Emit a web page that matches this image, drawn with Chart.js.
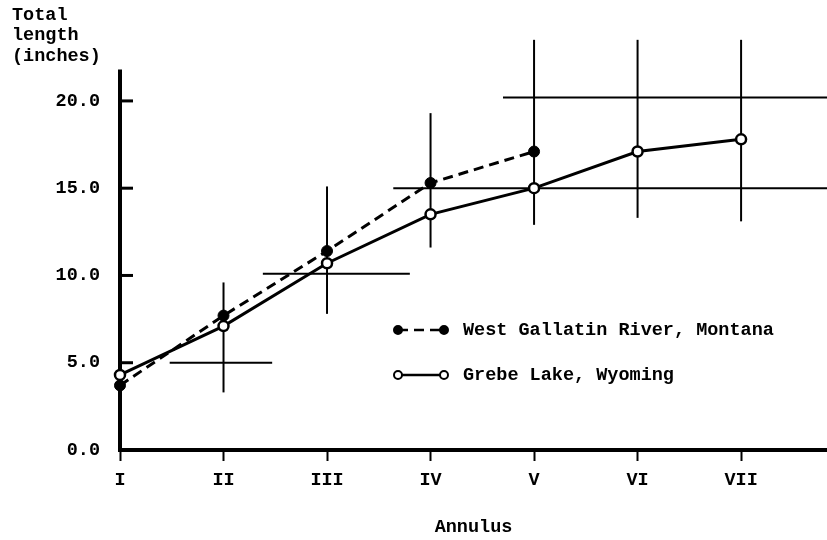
<!DOCTYPE html>
<html>

<head>
    <title>Total length by annulus</title>
    <script src="https://cdn.jsdelivr.net/npm/chart.js@4.4.0/dist/chart.umd.min.js"></script>
    <style>
        body {
            margin: 0;
            background: #fff;
        }

        .chart-container {
            width: 827px;
            height: 540px;
        }
    </style>
</head>

<body>
    <div class="chart-container">
        <canvas id="annulus-chart"></canvas>
    </div>

    <script>
        // annulus labels (x = 1..7)
        const annulus = ['I', 'II', 'III', 'IV', 'V', 'VI', 'VII'];

        // mean total length (inches)
        const westGallatin = [3.7, 7.7, 11.4, 15.3, 17.1];
        const grebeLake = [4.3, 7.1, 10.7, 13.5, 15.0, 17.1, 17.8];

        // vertical range bars
        const rangeAt = [2, 3, 4, 5, 6, 7];
        const rangeLow = [3.3, 7.8, 11.6, 12.9, 13.3, 13.1];
        const rangeHigh = [9.6, 15.1, 19.3, 23.5, 23.5, 23.5];

        // horizontal bars
        const spreadAt = [5.0, 10.1, 15.0, 20.2];
        const spreadFrom = [1.48, 2.38, 3.64, 4.70];
        const spreadTo = [2.47, 3.80, 7.83, 7.83];

        const yTicks = [0, 5, 10, 15, 20];

        const FONT = '"Liberation Mono", "DejaVu Sans Mono", monospace';
        const fontSize = 18.5;

        const datasets = [
            {
                label: 'West Gallatin River, Montana',
                data: westGallatin.map((v, i) => ({ x: i + 1, y: v })),
                borderColor: '#000',
                borderWidth: 3,
                borderDash: [10, 6],
                pointRadius: 5.5,
                pointBackgroundColor: '#000',
                pointBorderColor: '#000',
                pointBorderWidth: 1,
                clip: false
            },
            {
                label: 'Grebe Lake, Wyoming',
                data: grebeLake.map((v, i) => ({ x: i + 1, y: v })),
                borderColor: '#000',
                borderWidth: 3,
                pointRadius: 5,
                pointBackgroundColor: '#fff',
                pointBorderColor: '#000',
                pointBorderWidth: 2.5,
                clip: false
            }
        ];

        rangeAt.forEach((x, i) => {
            datasets.push({
                data: [{ x: x, y: rangeLow[i] }, { x: x, y: rangeHigh[i] }],
                borderColor: '#000',
                borderWidth: 2,
                pointRadius: 0
            });
        });

        spreadAt.forEach((y, i) => {
            datasets.push({
                data: [{ x: spreadFrom[i], y: y }, { x: spreadTo[i], y: y }],
                borderColor: '#000',
                borderWidth: 2,
                pointRadius: 0
            });
        });

        // axis line, inward ticks, y title and legend
        const decor = {
            id: 'decor',
            beforeDatasetsDraw(chart) {
                const ctx = chart.ctx;
                const xs = chart.scales.x;
                const ys = chart.scales.y;
                const x0 = xs.getPixelForValue(1);
                ctx.save();
                ctx.strokeStyle = '#000';
                ctx.lineWidth = 4;
                ctx.beginPath();
                ctx.moveTo(x0, ys.getPixelForValue(0) + 2);
                ctx.lineTo(x0, ys.getPixelForValue(21.8));
                ctx.stroke();

                ctx.lineWidth = 3;
                yTicks.slice(1).forEach(v => {
                    const py = ys.getPixelForValue(v);
                    ctx.beginPath();
                    ctx.moveTo(x0, py);
                    ctx.lineTo(x0 + 13, py);
                    ctx.stroke();
                });
                ctx.restore();
            },
            afterDraw(chart) {
                const ctx = chart.ctx;
                ctx.save();
                ctx.strokeStyle = '#000';
                ctx.fillStyle = '#000';
                ctx.font = 'bold ' + fontSize + 'px ' + FONT;
                ctx.textBaseline = 'middle';
                ctx.textAlign = 'left';
                ['Total', 'length', '(inches)'].forEach((t, i) => {
                    ctx.fillText(t, 12, 15 + i * 20.5);
                });

                // legend
                const rows = [
                    { y: 330, ds: datasets[0] },
                    { y: 375, ds: datasets[1] }
                ];
                rows.forEach(r => {
                    ctx.lineWidth = 2.5;
                    ctx.setLineDash(r.ds.borderDash || []);
                    ctx.beginPath();
                    ctx.moveTo(398, r.y);
                    ctx.lineTo(444, r.y);
                    ctx.stroke();
                    ctx.setLineDash([]);
                    [398, 444].forEach(px => {
                        ctx.beginPath();
                        ctx.arc(px, r.y, 4, 0, Math.PI * 2);
                        ctx.fillStyle = r.ds.pointBackgroundColor;
                        ctx.fill();
                        ctx.lineWidth = 2;
                        ctx.stroke();
                    });
                    ctx.fillStyle = '#000';
                    ctx.fillText(r.ds.label, 463, r.y);
                });
                ctx.restore();
            }
        };

        new Chart(document.getElementById('annulus-chart'), {
            type: 'line',
            data: { datasets: datasets },
            options: {
                responsive: true,
                maintainAspectRatio: false,
                animation: false,
                layout: {
                    autoPadding: false,
                    padding: { top: 30, right: 0, left: 0, bottom: 0 }
                },
                scales: {
                    x: {
                        type: 'linear',
                        min: 1,
                        max: 7.83,
                        afterFit: scale => { scale.height = 90; },
                        afterBuildTicks: scale => {
                            scale.ticks = scale.ticks.filter(t => Number.isInteger(t.value) && t.value <= 7);
                        },
                        grid: {
                            display: true,
                            drawOnChartArea: false,
                            drawTicks: true,
                            tickLength: 11,
                            tickWidth: 2,
                            tickColor: '#000'
                        },
                        border: { display: true, color: '#000', width: 4 },
                        ticks: {
                            stepSize: 1,
                            includeBounds: false,
                            autoSkip: false,
                            maxRotation: 0,
                            padding: 8,
                            color: '#000',
                            font: { family: FONT, size: fontSize, weight: 'bold' },
                            callback: v => annulus[v - 1] || ''
                        },
                        title: {
                            display: true,
                            text: 'Annulus',
                            color: '#000',
                            padding: { top: 0, bottom: 2 },
                            font: { family: FONT, size: fontSize, weight: 'bold' }
                        }
                    },
                    y: {
                        min: 0,
                        max: 24,
                        afterFit: scale => { scale.width = 120; },
                        grid: { display: false, drawTicks: false },
                        border: { display: false },
                        ticks: {
                            stepSize: 5,
                            includeBounds: false,
                            padding: 20,
                            color: '#000',
                            font: { family: FONT, size: fontSize, weight: 'bold' },
                            callback: v => v.toFixed(1)
                        }
                    }
                },
                plugins: {
                    legend: { display: false },
                    tooltip: { enabled: false }
                }
            },
            plugins: [decor]
        });
    </script>
</body>

</html>
